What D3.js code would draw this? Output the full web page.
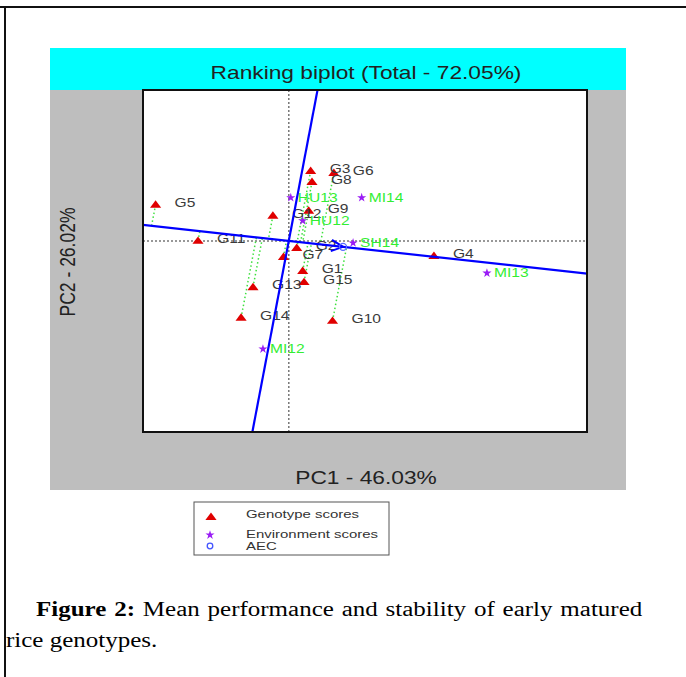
<!DOCTYPE html>
<html>
<head>
<meta charset="utf-8">
<script src="https://cdn.jsdelivr.net/npm/d3@7/dist/d3.min.js"></script>
<style>
  html, body { margin: 0; padding: 0; background: #fff; }
  #wrap { position: relative; width: 686px; height: 677px; overflow: hidden; }
  svg { position: absolute; left: 0; top: 0; }
  .cap { position: absolute; font-family: "Liberation Serif", "Times New Roman", serif; font-size: 20px; line-height: 31px; color: #000; transform: scale(1.25, 1); transform-origin: left top; }
</style>
</head>
<body>
<div id="wrap">
  <svg id="chart" width="686" height="677"></svg>
  <div class="cap" id="cap1" style="left:36px; top:594px; width:485px; text-align:justify; text-align-last:justify;"><b>Figure 2:</b> Mean performance and stability of early matured</div>
  <div class="cap" id="cap2" style="left:6px; top:625px; white-space:nowrap;">rice genotypes.</div>
</div>
<script>
// ---------------- DATA ----------------
const titleText = "Ranking biplot (Total - 72.05%)";
const xAxisTitle = "PC1 - 46.03%";
const yAxisTitle = "PC2 - 26.02%";

const genotypes = ["G1","G2","G3","G4","G5","G6","G7","G8","G9","G10","G11","G12","G13","G14","G15"];
const genoPC1   = [0.21, 0.12, 0.33, 2.19, -2.01, 0.68, -0.08, 0.35, 0.30, 0.66, -1.37, -0.24, -0.54, -0.72, 0.23];
const genoPC2   = [-0.60, -0.14, 1.39, -0.30, 0.72, 1.35, -0.32, 1.17, 0.60, -1.59, 0.00, 0.50, -0.92, -1.53, -0.82];

const environments = ["HU12","HU13","MI12","MI13","MI14","SH14"];
const envPC1 = [0.21, 0.03, -0.39, 2.99, 1.10, 0.97];
const envPC2 = [0.40, 0.86, -2.15, -0.64, 0.86, -0.04];

const legendLabels = ["Genotype scores", "Environment scores", "AEC"];

// ---------------- LAYOUT ----------------
const SX = 1.3; // horizontal stretch of the original figure
const svg = d3.select("#chart");
const panel = {x0: 50, x1: 626, top: 48, titleBottom: 90, bottom: 490};
const plot = {x0: 143, x1: 587, y0: 90, y1: 432};

const x = d3.scaleLinear().domain([-2.2, 4.5]).range([plot.x0, plot.x1]);
const y = d3.scaleLinear().domain([-3.8, 3.0]).range([plot.y1, plot.y0]);

const font = "'Liberation Sans', Arial, Helvetica, sans-serif";

function sText(g, px, py, str, o) {
  o = o || {};
  return g.append("text")
    .attr("transform", `translate(${px},${py}) scale(${SX},1)` + (o.rotate ? ` rotate(${o.rotate})` : ""))
    .attr("text-anchor", o.anchor || "start")
    .attr("dominant-baseline", "central")
    .attr("font-family", font)
    .attr("font-size", o.size || 12)
    .attr("fill", o.color || "#333")
    .text(str);
}

// page frame lines
svg.append("line").attr("x1", 0).attr("x2", 686).attr("y1", 7).attr("y2", 7).attr("stroke", "#111").attr("stroke-width", 2);
svg.append("line").attr("x1", 5).attr("x2", 5).attr("y1", 7).attr("y2", 677).attr("stroke", "#111").attr("stroke-width", 2);

// panel backgrounds
svg.append("rect").attr("x", panel.x0).attr("y", panel.titleBottom).attr("width", panel.x1 - panel.x0).attr("height", panel.bottom - panel.titleBottom).attr("fill", "#bebebe");
svg.append("rect").attr("x", panel.x0).attr("y", panel.top).attr("width", panel.x1 - panel.x0).attr("height", panel.titleBottom - panel.top).attr("fill", "#00ffff");
sText(svg, (plot.x0 + plot.x1) / 2 + 1, 73, titleText, {anchor: "middle", size: 17.5, color: "#222"});

// plot area
svg.append("rect").attr("x", plot.x0).attr("y", plot.y0).attr("width", plot.x1 - plot.x0).attr("height", plot.y1 - plot.y0).attr("fill", "#fff");
svg.append("clipPath").attr("id", "clip").append("rect")
  .attr("x", plot.x0).attr("y", plot.y0).attr("width", plot.x1 - plot.x0).attr("height", plot.y1 - plot.y0);
const g = svg.append("g").attr("clip-path", "url(#clip)");

// axis titles
sText(svg, 366, 478, xAxisTitle, {anchor: "middle", size: 17.5, color: "#222"});
sText(svg, 67, 262, yAxisTitle, {anchor: "middle", size: 17.5, color: "#222", rotate: -90});

// dotted reference lines through origin
g.append("line").attr("x1", x(0)).attr("x2", x(0)).attr("y1", plot.y0).attr("y2", plot.y1)
  .attr("stroke", "#777").attr("stroke-width", 1.5).attr("stroke-dasharray", "2,2");
g.append("line").attr("x1", plot.x0).attr("x2", plot.x1).attr("y1", y(0)).attr("y2", y(0))
  .attr("stroke", "#777").attr("stroke-width", 1.5).attr("stroke-dasharray", "2,2");

// AEC direction = mean environment
const aecX = d3.mean(envPC1), aecY = d3.mean(envPC2);
const uu = aecX * aecX + aecY * aecY;

// projections of genotypes onto AEC abscissa
const geno = genotypes.map((n, i) => ({name: n, px: genoPC1[i], py: genoPC2[i]}));
geno.forEach(d => {
  const t = (d.px * aecX + d.py * aecY) / uu;
  g.append("line")
    .attr("x1", x(d.px)).attr("y1", y(d.py))
    .attr("x2", x(t * aecX)).attr("y2", y(t * aecY))
    .attr("stroke", "#3ee03e").attr("stroke-width", 1.5).attr("stroke-dasharray", "1.5,2.5");
});

// genotype triangles
const tri = d3.symbol().type(d3.symbolTriangle).size(32)();
geno.forEach(d => {
  g.append("path").attr("d", tri)
    .attr("transform", `translate(${x(d.px)},${y(d.py) + 0.5}) scale(${SX},1)`)
    .attr("fill", "#e00000");
});
// environment stars
const star = d3.symbol().type(d3.symbolStar).size(26)();
const envs = environments.map((n, i) => ({name: n, px: envPC1[i], py: envPC2[i]}));
envs.forEach(d => {
  g.append("path").attr("d", star)
    .attr("transform", `translate(${x(d.px)},${y(d.py)})`)
    .attr("fill", "#9a1cf5");
});

// labels
geno.forEach(d => sText(g, x(d.px) + 19, y(d.py) - 2, d.name, {size: 12, color: "#3a3a3a"}));
envs.forEach(d => sText(g, x(d.px) + 7, y(d.py), d.name, {size: 12, color: "#33ee33"}));

// AEC abscissa and ordinate
const T = 50;
g.append("line")
  .attr("x1", x(-T * aecX)).attr("y1", y(-T * aecY)).attr("x2", x(T * aecX)).attr("y2", y(T * aecY))
  .attr("stroke", "#0000ff").attr("stroke-width", 2.2);
g.append("line")
  .attr("x1", x(T * aecY)).attr("y1", y(-T * aecX)).attr("x2", x(-T * aecY)).attr("y2", y(T * aecX))
  .attr("stroke", "#0000ff").attr("stroke-width", 2.2);

// arrow from origin to AEC
const ox = x(0), oy = y(0), ex = x(aecX), ey = y(aecY);
const ang = Math.atan2(ey - oy, ex - ox);
const hl = 13, ha = 0.45;
g.append("path")
  .attr("d", `M${ex - hl * Math.cos(ang - ha)},${ey - hl * Math.sin(ang - ha)} L${ex},${ey} L${ex - hl * Math.cos(ang + ha)},${ey - hl * Math.sin(ang + ha)}`)
  .attr("fill", "none").attr("stroke", "#0000ff").attr("stroke-width", 2);
g.append("circle").attr("cx", ex).attr("cy", ey).attr("r", 3.5)
  .attr("fill", "none").attr("stroke", "#5a6cff").attr("stroke-width", 1.3);

// plot frame
svg.append("rect").attr("x", plot.x0).attr("y", plot.y0).attr("width", plot.x1 - plot.x0).attr("height", plot.y1 - plot.y0)
  .attr("fill", "none").attr("stroke", "#111").attr("stroke-width", 2);

// legend
const lg = svg.append("g");
lg.append("rect").attr("x", 194).attr("y", 502).attr("width", 195).attr("height", 53)
  .attr("fill", "#fff").attr("stroke", "#555").attr("stroke-width", 1);
lg.append("path").attr("d", tri).attr("transform", `translate(211,517.5) scale(${SX},1)`).attr("fill", "#e00000");
lg.append("path").attr("d", star).attr("transform", `translate(210,535)`).attr("fill", "#9a1cf5");
lg.append("circle").attr("cx", 210).attr("cy", 546).attr("r", 2.8).attr("fill", "none").attr("stroke", "#4455ff").attr("stroke-width", 1.3);
const legY = [514, 534, 546];
legendLabels.forEach((t, i) => sText(lg, 246, legY[i], t, {size: 11.5, color: "#333"}));
</script>
</body>
</html>
